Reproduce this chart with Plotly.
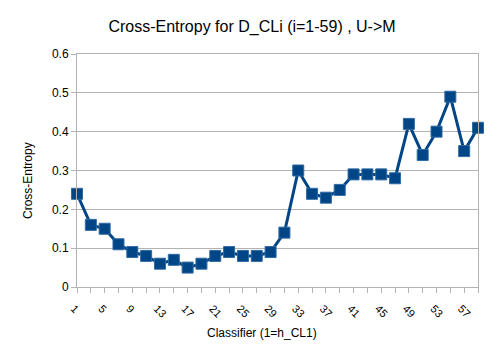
import plotly.graph_objects as go

classifiers = list(range(1, 60, 2))
cross_entropy = [0.24, 0.16, 0.15, 0.11, 0.09, 0.08, 0.06, 0.07, 0.05, 0.06,
                 0.08, 0.09, 0.08, 0.08, 0.09, 0.14, 0.30, 0.24, 0.23, 0.25,
                 0.29, 0.29, 0.29, 0.28, 0.42, 0.34, 0.40, 0.49, 0.35, 0.41]
tick_labels = list(range(1, 58, 4))

blue = '#004586'
gray = '#b3b3b3'
font = 'Liberation Sans, Arial, sans-serif'
# page body has an 8px margin, so the figure is a bit smaller and shifted
W, H = 492, 343
L, R, T, B = 69, 22, 46, 64
pw, ph = W - L - R, H - T - B

fig = go.Figure()
fig.add_trace(go.Scatter(x=classifiers, y=cross_entropy, mode='lines+markers',
                         line=dict(color=blue, width=3),
                         marker=dict(symbol='square', size=11, color=blue,
                                     line=dict(color='#2f6aa3', width=1)),
                         showlegend=False, cliponaxis=False))

fig.update_layout(
    width=W, height=H,
    margin=dict(l=L, r=R, t=T, b=B, autoexpand=False),
    paper_bgcolor='white', plot_bgcolor='white',
    font=dict(family=font, size=12, color='#000000'),
    title=dict(text='Cross-Entropy for D_CLi (i=1-59) , U->M', x=244 / W, xanchor='center',
               y=1 - 18 / H, yanchor='middle', font=dict(size=16, family=font)),
    xaxis=dict(range=[1, 59], tickvals=tick_labels, ticktext=[str(v) for v in tick_labels],
               tickangle=45, ticks='outside', ticklen=5, tickcolor=gray,
               ticklabelstandoff=5, ticklabelshift=-3,
               minor=dict(tickvals=classifiers, ticks='outside', ticklen=5, tickcolor=gray),
               showgrid=False, zeroline=False, showline=True, linecolor=gray, linewidth=1,
               mirror=True, tickfont=dict(size=11), automargin=False),
    yaxis=dict(range=[0, 0.6], dtick=0.1, tickformat='.1~f', ticks='outside', ticklen=5,
               tickcolor=gray, showgrid=True, gridcolor=gray, gridwidth=1, zeroline=False,
               showline=True, linecolor=gray, linewidth=1, mirror=True,
               tickfont=dict(size=12), automargin=False),
    annotations=[
        dict(text='Classifier (1=h_CL1)', xref='paper', yref='paper',
             x=(254 - L) / pw, y=-(325 - (H - B)) / ph,
             xanchor='center', yanchor='middle', showarrow=False, font=dict(size=12)),
        dict(text='Cross-Entropy', xref='paper', yref='paper', textangle=-90,
             x=-(L - 20) / pw, y=((H - B) - 173) / ph,
             xanchor='center', yanchor='middle', showarrow=False, font=dict(size=12)),
    ],
)

fig.write_html("out.html")
